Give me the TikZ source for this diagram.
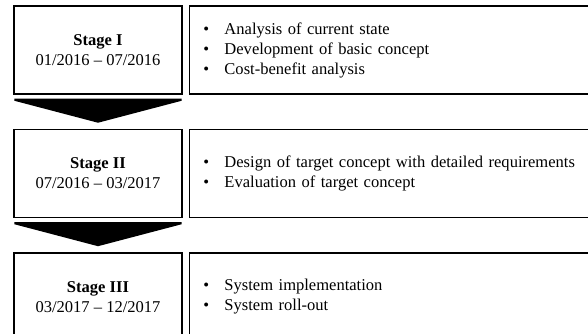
\documentclass[tikz,border=0pt]{standalone}
\usepackage{fontspec}
\setmainfont{Liberation Serif}
\usepackage{tikz}
\usetikzlibrary{positioning,calc}
\tikzset{
  stagebox/.style={draw, line width=1.1pt, minimum width=126pt, minimum height=66pt,
    align=center, font=\fontsize{12.4pt}{15pt}\selectfont},
  taskbox/.style={draw, line width=1.1pt, minimum height=66pt, text width=300pt,
    inner xsep=10.5pt, align=left, font=\fontsize{12.4pt}{15pt}\selectfont}
}
\newcommand{\itm}[1]{\makebox[15.75pt][l]{\textbullet}#1}

\begin{document}
\begin{tikzpicture}[x=0.75pt,y=-0.75pt]
                \useasboundingbox (0,0) rectangle (588,333);
                \clip (0,0) rectangle (588,333);

                % stage boxes on the left
                \node[stagebox] (s1) at (98,50) {\textbf{Stage I}\\01/2016 -- 07/2016};
                \node[stagebox, below=25.5pt of s1] (s2) {\textbf{Stage II}\\07/2016 -- 03/2017};
                \node[stagebox, below=25.5pt of s2] (s3) {\textbf{Stage III}\\03/2017 -- 12/2017};

                % task boxes on the right
                \node[taskbox, right=4.5pt of s1] (t1) {\itm{Analysis of current state}\\
                                                        \itm{Development of basic concept}\\
                                                        \itm{Cost-benefit analysis}};
                \node[taskbox, right=4.5pt of s2] (t2) {\itm{Design of target concept with detailed requirements}\\
                                                        \itm{Evaluation of target concept}};
                \node[taskbox, right=4.5pt of s3] (t3) {\itm{System implementation}\\
                                                        \itm{System roll-out}};

                % arrows between the stages
                \foreach \a in {s1, s2}
                    \fill ($(\a.south west)+(1,4)$) -- ($(\a.south east)+(-1,4)$) -- ++(0,2)
                          -- ($(\a.south)+(0,28)$) -- ($(\a.south west)+(1,6)$) -- cycle;
\end{tikzpicture}
\end{document}
